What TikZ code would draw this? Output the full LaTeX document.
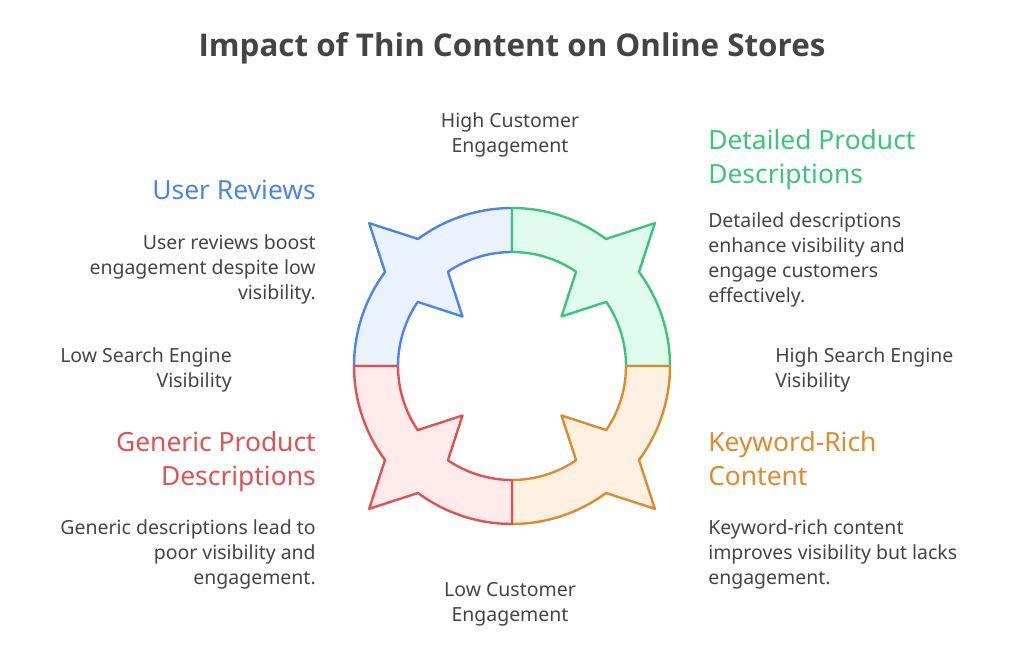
\documentclass[tikz,border=0pt]{standalone}
\usepackage{fontspec}
\setmainfont{Noto Sans}
\newfontfamily\titlefont{Open Sans}
\definecolor{txtgray}{HTML}{444444}
\definecolor{ublue}{HTML}{4A86E8}
\definecolor{ugreen}{HTML}{3CC47C}
\definecolor{uorange}{HTML}{E08A2E}
\definecolor{ured}{HTML}{E05252}
\begin{document}
\begin{tikzpicture}[
    x=0.75pt, y=0.75pt,
    title/.style={font=\titlefont\fontsize{23.5}{28}\selectfont\bfseries, text=txtgray, inner sep=0pt},
    head/.style={font=\fontsize{19.8}{25.5}\selectfont, inner sep=0pt},
    desc/.style={font=\fontsize{14.6}{18.75}\selectfont, text=txtgray, inner sep=0pt},
    seg/.style={line width=1.8pt, line join=round}
]
\useasboundingbox (0,0) rectangle (1024,653);

% Ring segments
\begin{scope}[shift={(512,287)}]
\foreach \a/\c/\f in {90/ublue/EAF2FE, 0/ugreen/E0FCEE, 270/uorange/FFF1E2, 180/ured/FFEBEB} {
    \definecolor{segfill}{HTML}{\f}
    \pgfmathsetmacro{\m}{\a+45}
    \draw[seg, draw=\c, fill=segfill]
        (\a:158) arc[start angle=\a, end angle=\m-8.5, radius=158]
        -- (\m:202) -- (\m+8.5:158)
        arc[start angle=\m+8.5, end angle=\a+90, radius=158]
        -- (\a+90:114)
        arc[start angle=\a+90, end angle=\m+10.8, radius=114]
        -- (\m:70) -- (\m-10.8:114)
        arc[start angle=\m-10.8, end angle=\a, radius=114] -- cycle;
}
\end{scope}

% Title
\node[title, anchor=north] (title) at (512,621) {Impact of Thin Content on Online Stores};

% Axis labels
\node[desc, anchor=north, align=center] (hieng) at (510,541) {High Customer\\Engagement};
\node[desc, anchor=north, align=center] (loeng) at (510,71) {Low Customer\\Engagement};
\node[desc, anchor=north west, align=left] (hivis) at (775,306) {High Search Engine\\Visibility};
\node[desc, anchor=north east, align=right] (lovis) at (232,306) {Low Search Engine\\Visibility};

% Right side
\node[head, text=ugreen, anchor=north west, align=left] (detailed) at (708,524) {Detailed Product\\Descriptions};
\node[desc, anchor=north west, align=left] (detailed_txt) at (708,441) {Detailed descriptions\\enhance visibility and\\engage customers\\effectively.};
\node[head, text=uorange, anchor=north west, align=left] (keyword) at (708,222) {Keyword-Rich\\Content};
\node[desc, anchor=north west, align=left] (keyword_txt) at (708,134) {Keyword-rich content\\improves visibility but lacks\\engagement.};

% Left side
\node[head, text=ublue, anchor=north east, align=right] (reviews) at (316,473) {User Reviews};
\node[desc, anchor=north east, align=right] (reviews_txt) at (316,419) {User reviews boost\\engagement despite low\\visibility.};
\node[head, text=ured, anchor=north east, align=right] (generic) at (316,222) {Generic Product\\Descriptions};
\node[desc, anchor=north east, align=right] (generic_txt) at (316,134) {Generic descriptions lead to\\poor visibility and\\engagement.};
\end{tikzpicture}
\end{document}
